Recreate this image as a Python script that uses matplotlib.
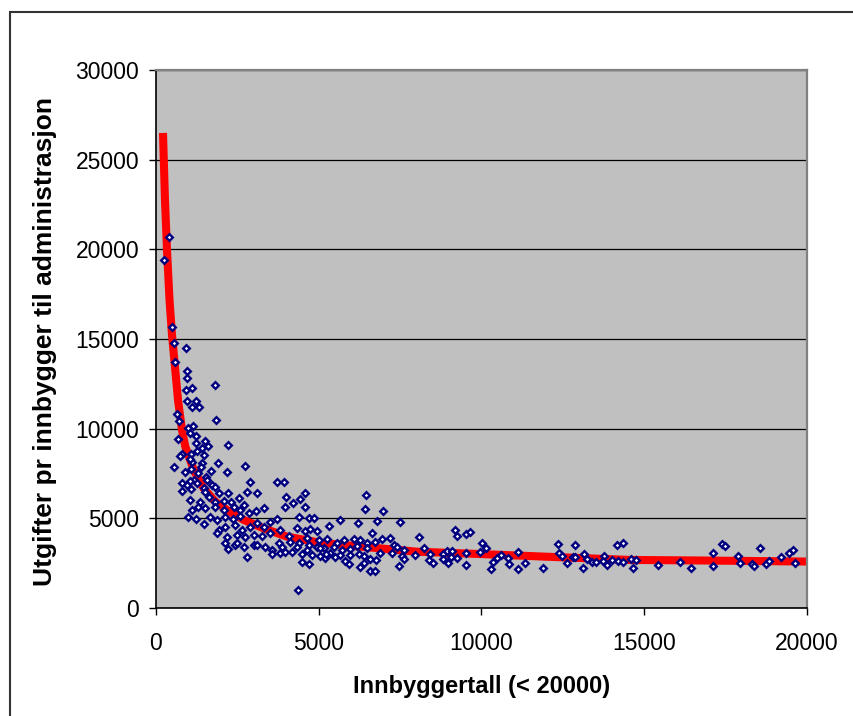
import matplotlib
matplotlib.use('Agg')
import matplotlib.pyplot as plt
from matplotlib.patches import Rectangle

# ---- data ----
pop = [246, 399, 482, 562, 931, 574, 943, 943, 912, 1106, 1803, 962, 1220, 1115, 1321, 654, 707, 1834, 1127, 992,
       676, 1054, 1238, 1515, 1588, 1422, 1238, 2212, 808, 728, 1075, 1465, 1260, 1097, 1054, 1413, 1392, 1895, 544, 900,
       1075, 1300, 1690, 1536, 2190, 2725, 1158, 1054, 790, 952, 1260, 1567, 1720, 799, 1085, 1465, 1822, 1926, 2203, 1515,
       1619, 2897, 2796, 3103, 3727, 3923, 1054, 1361, 1822, 2080, 2304, 2541, 2694, 1106, 1290, 1515, 1822, 2080, 2387, 2590,
       2848, 3081, 3327, 3954, 983, 1238, 1465, 1668, 1874, 2129, 2365, 2590, 1926, 2129, 2436, 2642, 2897, 3103, 3309, 3511,
       3717, 1874, 2181, 2488, 2743, 3001, 3256, 3511, 3819, 2129, 2436, 2694, 3001, 3358, 3564, 2212, 2488, 2796, 3564, 3819,
       3769, 3103, 3871, 3972, 3994,
       4587, 4433, 4209, 4587, 4402, 4691, 4863, 4332, 4587, 4740, 4946, 5324, 5662, 6206, 6442, 6421, 6983, 6789, 7505, 6636,
       7198, 4077, 4126, 4384, 4639, 4691, 4998, 5253, 5561, 5785, 6074, 6258, 6482, 6737, 6943, 7302, 7404, 7610, 4332, 4639,
       4946, 5152, 5459, 5714, 5969, 6175, 6482, 4178, 4485, 4793, 5048, 5355, 5662, 5969, 6227, 6381, 6891, 7250, 7557, 7966,
       4485, 5201, 5508, 6584, 6768, 4691, 5816, 5920, 6276, 6399, 6565, 6737, 7475, 5232, 5048, 4372,
       7620, 8070, 8224, 8418, 8396, 8501, 8808, 8931, 8808, 8980, 9084, 9054, 9177, 9238, 9256, 9514, 9647, 9524, 9514, 10006,
       9954, 10147, 10291, 10344, 10467, 10590, 10823, 10835, 11121, 11121, 11345, 11899, 12350, 12372, 12464, 12618, 12802, 12882, 12873, 13109,
       13158, 13232, 13404, 13518,
       13772, 13742, 13846, 14000, 14172, 14337, 14203, 14337, 14583, 14746, 14663, 15431, 16098, 16427, 17103, 17121, 17388, 17471, 17880, 17941,
       18301, 18362, 18556, 18749, 18823, 19201, 19447, 19579, 19631]

cost = [19390, 20690, 15690, 14760, 14480, 13700, 13200, 12840, 12170, 12250, 12420, 11560, 11540, 11230, 11190, 10830, 10440, 10500, 10150, 10020,
        9423, 9775, 9591, 9329, 9033, 8905, 9184, 9106, 8587, 8476, 8587, 8531, 8771, 8141, 8292, 8085, 7846, 8085, 7879, 7567,
        7751, 7511, 7623, 7321, 7600, 7901, 7137, 7098, 6953, 6859, 6953, 7137, 6859, 6541, 6619, 6675, 6764, 6396, 6429, 6485,
        6206, 7009, 6485, 6429, 7043, 7043, 6022, 5927, 5927, 5966, 5927, 6117, 5743, 5465, 5615, 5559, 5649, 5465, 5615, 5465,
        5314, 5392, 5559, 5649, 5058, 4979, 4684, 5091, 4907, 5058, 4946, 5130, 4349, 4533, 4628, 4349, 4533, 4723, 4533, 4812,
        4946, 4165, 3976, 4071, 3942, 4071, 4015, 4165, 4349, 3608, 3513, 3418, 3513, 3418, 3234, 3290, 3608, 2861, 2994, 3050,
        3608, 3513, 3418, 3139, 6190,
        6429, 6061, 5872, 5649, 5091, 5002, 5002, 4444, 4310, 4388, 4310, 4556, 4907, 4723, 6301, 5520, 5392, 4851, 4795, 4182,
        3920, 4015, 3697, 3608, 3887, 3513, 3792, 3831, 3608, 3792, 3831, 3792, 3608, 3697, 3831, 3513, 3385, 3234, 3418, 3234,
        3418, 3329, 3385, 3234, 3273, 3457, 3329, 3139, 3011, 2955, 2900, 3084, 2955, 2955, 3011, 2900, 3084, 3050, 2900, 2955,
        2582, 2771, 2827, 2716, 2677, 2437, 2638, 2453, 2269, 2526, 2080, 2080, 2342, 3011, 3329, 987,
        2730, 3942, 3362, 3028, 2677, 2526, 3011, 3195, 2732, 2493, 3195, 2861, 4366, 4015, 2771, 4126, 4221, 3050, 2398, 3608,
        3139, 3362, 2175, 2582, 2771, 2955, 2771, 2453, 3106, 2191, 2493, 2214, 3585, 3067, 2916, 2526, 2861, 3513, 2827, 2230,
        3011, 2732, 2582, 2582,
        2916, 2638, 2398, 2677, 3530, 3641, 2621, 2548, 2716, 2677, 2230, 2381, 2582, 2230, 3084, 2359, 3569, 3474, 2900, 2526,
        2437, 2325, 3329, 2437, 2621, 2861, 3050, 3251, 2526]

# trend line
trend_pop = [215, 276, 338, 415, 492, 584, 676, 799, 900, 1158, 1465, 1822, 2181, 2694, 3309, 4025, 5048, 6074, 7097,
             8018, 9954, 12003, 14562, 16713, 20000]
trend_cost = [26490, 22750, 19960, 17180, 15220, 13440, 11600, 9930, 9000, 7700, 6670, 5930, 5470, 4910, 4440, 3980,
              3640, 3460, 3290, 3140, 3010, 2860, 2680, 2650, 2590]

x_ticks = [0, 5000, 10000, 15000, 20000]
y_ticks = [0, 5000, 10000, 15000, 20000, 25000, 30000]
x_label = 'Innbyggertall (< 20000)'
y_label = 'Utgifter pr innbygger til administrasjon'

plt.rcParams['font.family'] = ['Liberation Sans', 'DejaVu Sans']

fig = plt.figure(figsize=(8.54, 7.16), dpi=100)
W, H = 854, 716
left, right, top, bottom = 156, 807, 70, 608
ax = fig.add_axes([left / W, 1 - bottom / H, (right - left) / W, (bottom - top) / H])
ax.set_facecolor('#C0C0C0')
ax.set_xlim(0, 20000)
ax.set_ylim(0, 30000)
ax.set_xticks(x_ticks)
ax.set_yticks(y_ticks)
ax.yaxis.grid(True, color='black', lw=0.9)
ax.set_axisbelow(True)

ax.plot(trend_pop, trend_cost, color='#FF0000', lw=5.8, solid_capstyle='butt', solid_joinstyle='round', zorder=2)
ax.plot(pop, cost, linestyle='none', marker='D', ms=3.4, mfc='white', mec='#000080', mew=1.7, zorder=3)

for s in ['left', 'bottom']:
    ax.spines[s].set_color('black')
    ax.spines[s].set_linewidth(1.2)
for s in ['top', 'right']:
    ax.spines[s].set_color('#808080')
    ax.spines[s].set_linewidth(1.6)

ax.tick_params(axis='both', direction='out', length=5, width=1, color='black', labelsize=16.5)
ax.tick_params(axis='x', pad=12)
ax.tick_params(axis='y', pad=7)

fig.text(482 / W, 1 - 686 / H, x_label, ha='center', va='center', fontsize=17, fontweight='bold')
fig.text(45 / W, 1 - 342 / H, y_label, ha='center', va='center', rotation=90, fontsize=19, fontweight='bold')

fig.add_artist(Rectangle((10 / W, -0.1), 1.2, (1 - 12 / H) + 0.1, transform=fig.transFigure,
                         fill=False, edgecolor='#333333', lw=1.5))

fig.savefig('out.png', dpi=100)
